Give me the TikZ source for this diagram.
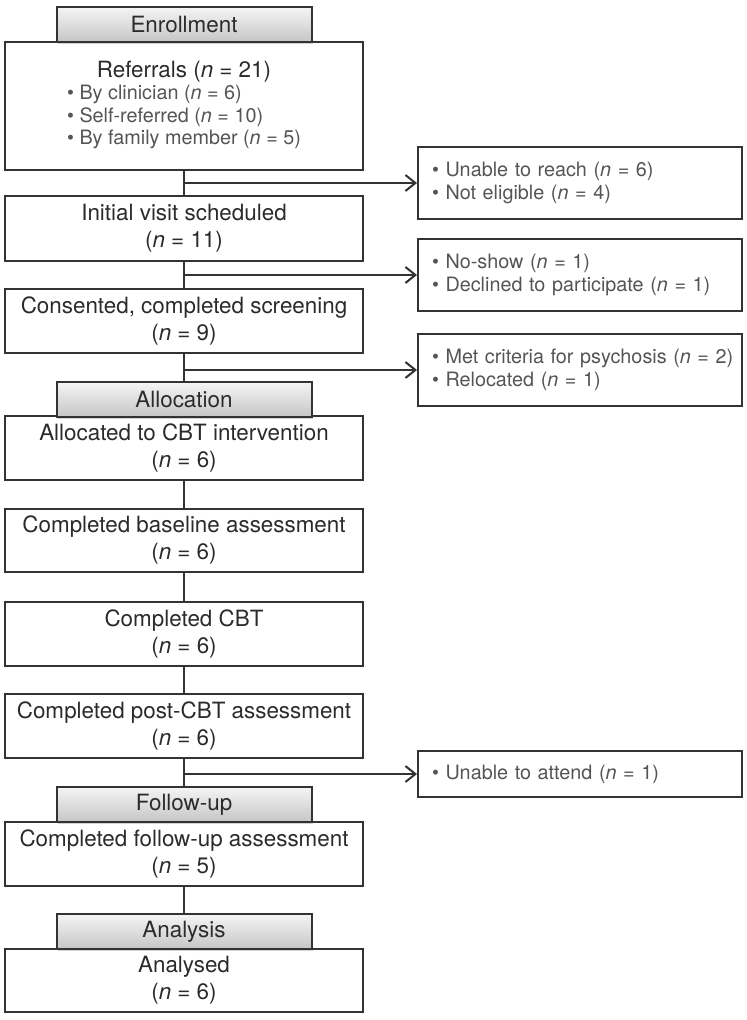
\documentclass[tikz,border=0pt]{standalone}
\usepackage{fontspec}
\setmainfont{TeX Gyre Heros}
\usetikzlibrary{arrows.meta}
\usetikzlibrary{shadows}
\definecolor{linegray}{HTML}{333333}
\definecolor{textdark}{HTML}{2B2B2B}
\definecolor{textgray}{HTML}{555555}
\newcommand{\nn}[1]{(\textit{n} = #1)}

\begin{document}
\begin{tikzpicture}[x=0.5pt,y=0.5pt,
    mainbox/.style={draw=linegray,line width=1pt,fill=white,minimum width=179pt,inner sep=2pt,
      align=center,text=textdark,font=\fontsize{11.2}{13.5}\selectfont},
    stagebox/.style={draw=linegray,line width=1pt,top color=gray!8,bottom color=gray!45,
      minimum width=127.5pt,minimum height=17.5pt,inner sep=0pt,text=textdark,
      font=\fontsize{11.2}{13.5}\selectfont,
      drop shadow={shadow xshift=0.5pt,shadow yshift=-1pt,opacity=0.35}},
    sidebox/.style={draw=linegray,line width=1pt,fill=white,inner xsep=7pt,text width=148pt,
      align=left,text=textgray,font=\fontsize{9.9}{11.5}\selectfont},
    link/.style={draw=linegray,line width=1pt},
    outarrow/.style={link,-{Straight Barb[length=5pt,width=8pt]}}]
    \useasboundingbox (0,0) rectangle (747,-1020);
    % Main column
    \node[mainbox,minimum height=64pt] (referrals) at (184,-106) {Referrals \nn{21}\\
      {\fontsize{9.9}{11.25}\selectfont\color{textgray}\begin{tabular}{@{}l@{}}
        \textbullet\ By clinician \nn{6}\\
        \textbullet\ Self-referred \nn{10}\\
        \textbullet\ By family member \nn{5}
      \end{tabular}}};
    \node[mainbox,minimum height=32.5pt] (visit) at (184,-228.5) {Initial visit scheduled\\ \nn{11}};
    \node[mainbox,minimum height=32pt] (screen) at (184,-321) {Consented, completed screening\\ \nn{9}};
    \node[mainbox,minimum height=32pt] (allocated) at (184,-448) {Allocated to CBT intervention\\ \nn{6}};
    \node[mainbox,minimum height=31.5pt] (baseline) at (184,-540.5) {Completed baseline assessment\\ \nn{6}};
    \node[mainbox,minimum height=32pt] (cbt) at (184,-634) {Completed CBT\\ \nn{6}};
    \node[mainbox,minimum height=32pt] (postcbt) at (184,-726) {Completed post-CBT assessment\\ \nn{6}};
    \node[mainbox,minimum height=32pt] (followup) at (184,-854) {Completed follow-up assessment\\ \nn{5}};
    \node[mainbox,minimum height=31.5pt] (analysed) at (184,-980.5) {Analysed\\ \nn{6}};
    % Stage headers
    \node[stagebox] (enroll) at (184,-24.5) {Enrollment};
    \node[stagebox] (alloc) at (184,-399.5) {Allocation};
    \node[stagebox] (follow) at (184,-804.5) {Follow-up};
    \node[stagebox] (analysis) at (184,-931.5) {Analysis};
    % Exclusions
    \node[sidebox,minimum height=36pt] (excl1) at (580,-183) {\textbullet\ Unable to reach \nn{6}\\ \textbullet\ Not eligible \nn{4}};
    \node[sidebox,minimum height=36pt] (excl2) at (580,-275) {\textbullet\ No-show \nn{1}\\ \textbullet\ Declined to participate \nn{1}};
    \node[sidebox,minimum height=36pt] (excl3) at (580,-370) {\mbox{\textbullet\ Met criteria for psychosis \nn{2}}\\ \textbullet\ Relocated \nn{1}};
    \node[sidebox,minimum height=23pt] (excl4) at (580,-774) {\textbullet\ Unable to attend \nn{1}};
    % Connectors
    \draw[link] (referrals.south) -- (visit.north);
    \draw[outarrow] (referrals.south |- excl1.west) -- (excl1.west);
    \draw[link] (visit.south) -- (screen.north);
    \draw[outarrow] (visit.south |- excl2.west) -- (excl2.west);
    \draw[link] (screen.south) -- (alloc.north);
    \draw[outarrow] (screen.south |- excl3.west) -- (excl3.west);
    \draw[link] (allocated.south) -- (baseline.north);
    \draw[link] (baseline.south) -- (cbt.north);
    \draw[link] (cbt.south) -- (postcbt.north);
    \draw[link] (postcbt.south) -- (follow.north);
    \draw[outarrow] (postcbt.south |- excl4.west) -- (excl4.west);
    \draw[link] (followup.south) -- (analysis.north);
\end{tikzpicture}
\end{document}
